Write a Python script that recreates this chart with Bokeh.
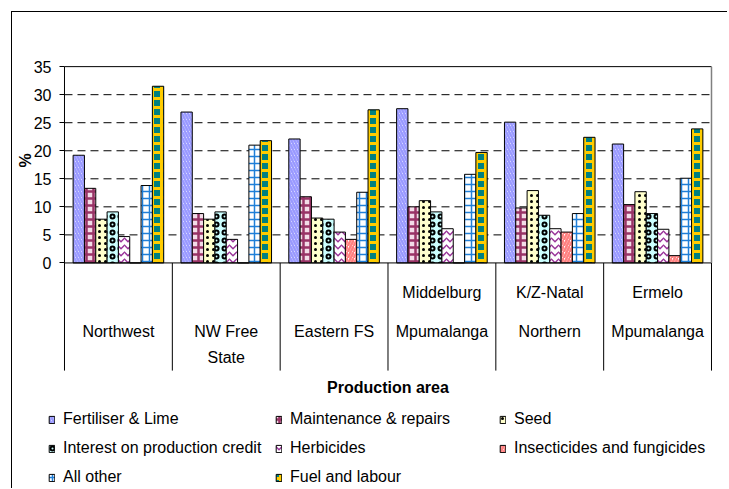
import math
from bokeh.plotting import figure
from bokeh.models import (ColumnDataSource, Range1d, FixedTicker, LinearAxis,
                          Legend, LegendItem)
from bokeh.transform import dodge
from bokeh.core.properties import value
from bokeh.embed import file_html
from bokeh.resources import INLINE

# ---------------- data ----------------
areas = ["Northwest", "NW Free State", "Eastern FS", "Middelburg Mpumalanga",
         "K/Z-Natal Northern", "Ermelo Mpumalanga"]
label_line1 = ["", "", "", "Middelburg", "K/Z-Natal", "Ermelo"]
label_line2 = ["Northwest", "NW Free", "Eastern FS", "Mpumalanga", "Northern", "Mpumalanga"]
label_line3 = ["", "State", "", "", "", ""]
x_title = "Production area"
y_title = "%"

series_names = ["Fertiliser & Lime", "Maintenance & repairs", "Seed",
                "Interest on production credit", "Herbicides",
                "Insecticides and fungicides", "All other", "Fuel and labour"]
fertiliser = [19.2, 26.9, 22.1, 27.5, 25.1, 21.2]
maintenance = [13.3, 8.8, 11.8, 10.0, 9.8, 10.4]
seed = [7.8, 7.8, 8.0, 11.1, 12.9, 12.7]
interest = [9.1, 9.1, 7.8, 9.1, 8.5, 8.8]
herbicides = [4.7, 4.2, 5.5, 6.1, 6.1, 6.0]
insecticides = [0.0, 0.0, 4.2, 0.0, 5.5, 1.3]
all_other = [13.8, 21.0, 12.6, 15.8, 8.8, 15.1]
fuel = [31.5, 21.8, 27.3, 19.7, 22.4, 23.9]
y_ticks = [0, 5, 10, 15, 20, 25, 30, 35]
grid_ticks = [5, 10, 15, 20, 25, 30]
y_top = 35

series_values = [fertiliser, maintenance, seed, interest, herbicides,
                 insecticides, all_other, fuel]

# ---------------- styles ----------------
styles = [
    dict(fill_color="white", hatch_pattern="\\", hatch_color="#9999FF", hatch_weight=2.5, hatch_scale=6),
    dict(fill_color="#F3DCE8", hatch_pattern="+", hatch_color="#993366", hatch_weight=2.5, hatch_scale=7),
    dict(fill_color="#FFFFCC", hatch_pattern=".", hatch_color="black", hatch_weight=1.5, hatch_scale=6),
    dict(fill_color="#CCFFFF", hatch_pattern="o", hatch_color="black", hatch_weight=2, hatch_scale=8),
    dict(fill_color="white", hatch_pattern="v", hatch_color="#993399", hatch_weight=1.5, hatch_scale=7),
    dict(fill_color="white", hatch_pattern="/", hatch_color="#FF8080", hatch_weight=2.5, hatch_scale=6),
    dict(fill_color="white", hatch_pattern="+", hatch_color="#1F7FD8", hatch_weight=1.5, hatch_scale=7),
    dict(fill_color="#008080", hatch_pattern="+", hatch_color="#FFCC00", hatch_weight=3, hatch_scale=9),
]

FONT = "Liberation Sans"
W, H = 716, 477
TOP = 40

# group positions on a linear scale: one unit per production area
pos = [i + 0.5 for i in range(len(areas))]

p = figure(
    width=W, height=H,
    x_range=Range1d(-0.4822, 6.1577),
    y_range=Range1d(-40.4, 37.52),
    x_axis_location=None, y_axis_location=None,
    output_backend="svg", toolbar_location=None,
    min_border_left=0, min_border_right=0, min_border_top=TOP, min_border_bottom=0,
    outline_line_color=None,
    styles={"border-left": "1px solid #000", "border-top": "1px solid #000",
            "margin-left": "11px", "margin-top": "11px"},
)
p.grid.visible = False

yaxis = LinearAxis(fixed_location=0, ticker=FixedTicker(ticks=y_ticks))
yaxis.axis_line_color = None
yaxis.major_tick_in = 0
yaxis.major_tick_out = 5
yaxis.major_tick_line_color = "black"
yaxis.minor_tick_line_color = None
yaxis.major_label_standoff = 8
yaxis.major_label_text_font = FONT
yaxis.major_label_text_font_size = "16px"
yaxis.major_label_text_color = "black"
p.add_layout(yaxis, "left")

# dashed grid lines
gsrc = ColumnDataSource(dict(y=grid_ticks, x0=[0] * len(grid_ticks),
                             x1=[len(areas)] * len(grid_ticks)))
p.segment(x0="x0", x1="x1", y0="y", y1="y", source=gsrc,
          line_color="black", line_width=1, line_dash="8 5")

src = ColumnDataSource(dict(area=areas, pos=pos,
                            **{f"s{i}": v for i, v in enumerate(series_values)}))

bw = 0.105
renderers = []
for i, name in enumerate(series_names):
    off = (i - 3.5) * bw
    r = p.vbar(x=dodge("pos", off), top=f"s{i}", bottom=0, width=bw,
               source=src, line_color="black", line_width=1, **styles[i])
    renderers.append(r)

# plot box lines
edge = ColumnDataSource(dict(l=[0], r=[len(areas)]))
p.segment(x0="l", x1="r", y0=y_top, y1=y_top, source=edge, line_color="black", line_width=1)
p.segment(x0="l", x1="r", y0=0, y1=0, source=edge, line_color="black", line_width=1)
p.segment(x0="l", x1="l", y0=0, y1=y_top, source=edge, line_color="black", line_width=1)
p.segment(x0="r", x1="r", y0=0, y1=y_top, source=edge, line_color="#808080", line_width=1.5)

# category separators (below the axis)
SEP_BOTTOM = -19.2
p.segment(x0=dodge("pos", -0.5), x1=dodge("pos", -0.5), y0=SEP_BOTTOM, y1=0,
          source=src, line_color="black", line_width=1)
p.segment(x0="r", x1="r", y0=SEP_BOTTOM, y1=0, source=edge, line_color="black", line_width=1)

# category labels
lab = ColumnDataSource(dict(pos=pos, l1=label_line1, l2=label_line2, l3=label_line3))
for col, yy in (("l1", -5.25), ("l2", -12.2), ("l3", -16.8)):
    p.text(x="pos", y=yy, text=col, source=lab, text_align="center",
           text_baseline="middle", text_font=value(FONT), text_font_size="16px",
           text_color="black")

# axis titles
p.text(x=[len(areas) / 2], y=[-22.2], text=[x_title],
       text_align="center", text_baseline="middle", text_font=value(FONT),
       text_font_size="16px", text_font_style="bold", text_color="black")
p.text(x=[-0.362], y=[18.3], text=[y_title], angle=math.pi / 2,
       text_align="center", text_baseline="middle", text_font=value(FONT),
       text_font_size="16px", text_font_style="bold", text_color="black")

# legends: three columns of equal width
cols = [[0, 3, 6], [1, 4, 7], [2, 5]]
col_x = [36, 263, 487]
ROW_TOP = 397
for c, xpos in zip(cols, col_x):
    n = len(c)
    height = n * 20 + (n - 1) * 9
    lg = Legend(
        items=[LegendItem(label=series_names[i], renderers=[renderers[i]]) for i in c],
        location=(xpos, H - (ROW_TOP + height)),
        border_line_color=None, background_fill_alpha=0,
        padding=0, margin=0, spacing=9,
        glyph_width=7, glyph_height=9, label_standoff=8,
        label_text_font=FONT, label_text_font_size="16px", label_text_color="black",
        label_height=20,
    )
    p.add_layout(lg, "center")

open("out.html", "w").write(file_html(p, INLINE))
